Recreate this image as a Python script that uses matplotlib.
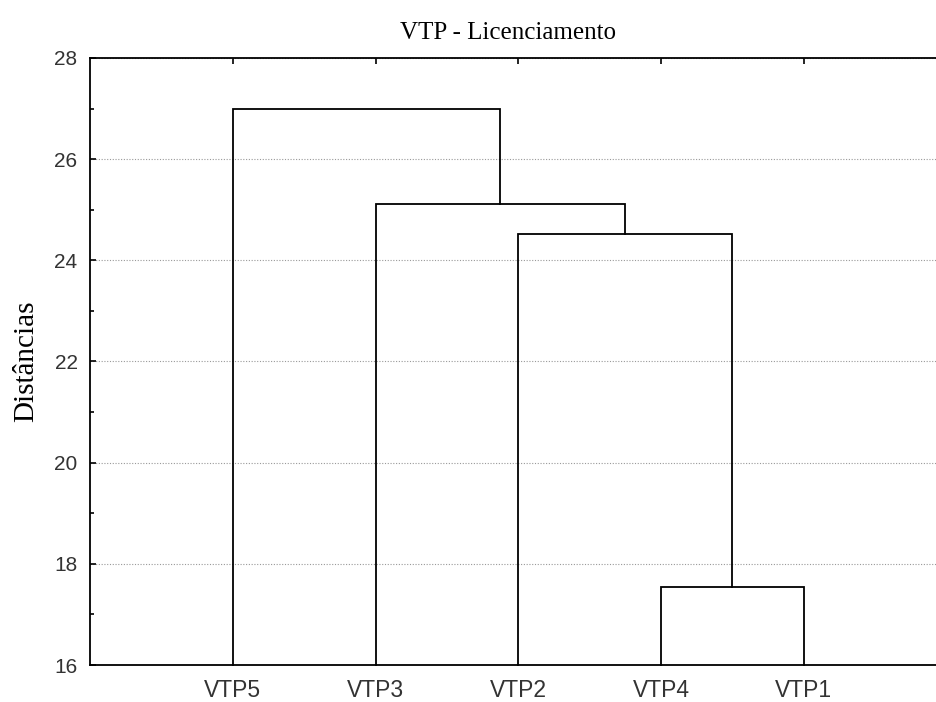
import matplotlib
matplotlib.use("Agg")
import matplotlib.pyplot as plt
from matplotlib.ticker import MultipleLocator

# ── Data ──────────────────────────────────────────────────────────────────────
leaves = ["VTP5", "VTP3", "VTP2", "VTP4", "VTP1"]
# merges: (left cluster, right cluster, height); clusters named by leaf or merge index
merge_left = ["VTP4", "VTP2", "VTP3", "VTP5"]
merge_right = ["VTP1", "m0", "m1", "m2"]
merge_height = [17.55, 24.52, 25.11, 27.0]

TITLE = "VTP - Licenciamento"
YLABEL = "Distâncias"

# ── Figure ────────────────────────────────────────────────────────────────────
fig = plt.figure(figsize=(9.36, 7.02), dpi=100)
ax = fig.add_axes([0.0962, 0.0527, 0.915, 0.8647])

pos = {name: i + 1 for i, name in enumerate(leaves)}
top = {name: 16.0 for name in leaves}
for k, (a, b, h) in enumerate(zip(merge_left, merge_right, merge_height)):
    xa, xb = pos[a], pos[b]
    ax.plot([xa, xa, xb, xb], [top[a], h, h, top[b]], color="black", lw=1.3,
            solid_joinstyle="miter", clip_on=False)
    pos[f"m{k}"] = (xa + xb) / 2
    top[f"m{k}"] = h

ax.set_xlim(0, 6)
ax.set_ylim(16, 28)

ax.set_xticks(range(1, len(leaves) + 1))
ax.set_xticklabels(leaves, fontsize=16.5, family="Liberation Sans", color="#333333")
ax.yaxis.set_major_locator(MultipleLocator(2))
ax.yaxis.set_minor_locator(MultipleLocator(1))
for lbl in ax.get_yticklabels():
    lbl.set_fontsize(15)
    lbl.set_family("Liberation Sans")
    lbl.set_color("#333333")

ax.tick_params(axis="x", which="major", direction="in", top=True, bottom=False,
               length=4, width=1.2, pad=10)
ax.tick_params(axis="y", which="major", direction="in", length=4, width=1.2, pad=9)
ax.tick_params(axis="y", which="minor", direction="in", length=3, width=1.2)

ax.grid(axis="y", which="major", color="#999999", linestyle=(0, (1, 1.5)), lw=0.8)
for s in ax.spines.values():
    s.set_linewidth(1.3)

ax.set_title(TITLE, fontsize=18, family="Liberation Serif", pad=14, x=0.488)
ax.set_ylabel(YLABEL, fontsize=21, family="Liberation Serif", labelpad=11)

fig.savefig("out.png", dpi=100)
